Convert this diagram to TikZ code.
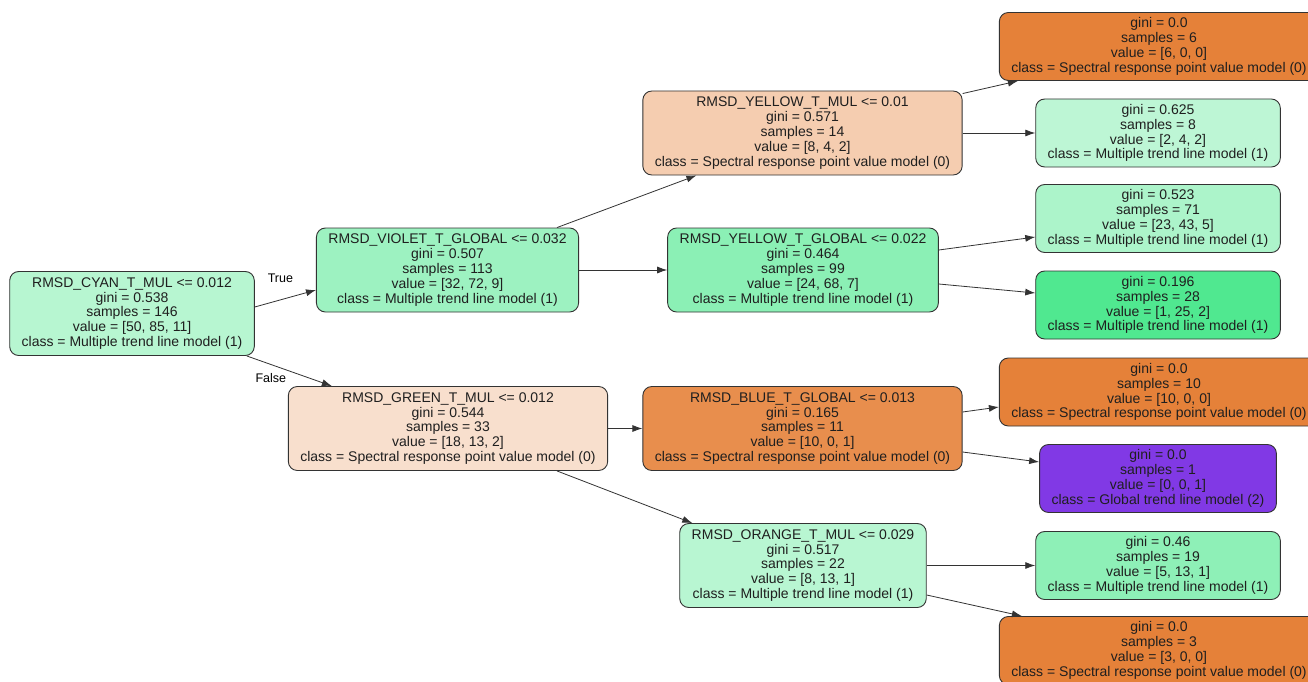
\documentclass[tikz,border=0pt]{standalone}
\usepackage{fontspec}
\setmainfont{Liberation Sans}
\usetikzlibrary{shapes,arrows.meta}

\definecolor{orangefull}{RGB}{229,129,57}
\definecolor{purplefull}{RGB}{129,57,229}
\definecolor{cyanfill}{RGB}{183,246,209}
\definecolor{violetfill}{RGB}{157,242,193}
\definecolor{greenfill}{RGB}{248,223,205}
\definecolor{ymulfill}{RGB}{245,205,176}
\definecolor{yglobfill}{RGB}{139,240,181}
\definecolor{bluefill}{RGB}{232,142,77}
\definecolor{orangefill}{RGB}{184,246,210}
\definecolor{mixeightfill}{RGB}{189,246,213}
\definecolor{mixseventyfill}{RGB}{172,244,202}
\definecolor{mixtwentyfill}{RGB}{80,232,144}
\definecolor{mixnineteenfill}{RGB}{142,240,183}

\begin{document}
\begin{tikzpicture}[x=1pt, y=1pt, >={Latex[length=10pt, width=7pt]}]
    \tikzset{font={\fontsize{14pt}{14.8pt}\selectfont}}
    \tikzset{tree/.style={draw=black!80, line width=0.9pt, rounded corners=9pt, align=center, inner xsep=12pt, inner ysep=2pt, text=black!88},
      split/.style={tree, minimum height=84pt},
      leaf/.style={tree, minimum height=68pt},
      edge/.style={->, draw=black!80, line width=0.8pt}}
    \clip (0,0) rectangle (1308,-682);
    \fill[white] (0,0) rectangle (1308,-682);
    % split nodes
    \node [split, fill=cyanfill] (cyan) at (132,-313.5) {RMSD\_CYAN\_T\_MUL <= 0.012\\gini = 0.538\\samples = 146\\value = [50, 85, 11]\\class = Multiple trend line model (1)};
    \node [split, fill=violetfill, right of=cyan, node distance=315.5pt, yshift=43.5pt] (violet) {RMSD\_VIOLET\_T\_GLOBAL <= 0.032\\gini = 0.507\\samples = 113\\value = [32, 72, 9]\\class = Multiple trend line model (1)};
      \node [split, fill=greenfill, right of=cyan, node distance=316pt, yshift=-115pt] (green) {RMSD\_GREEN\_T\_MUL <= 0.012\\gini = 0.544\\samples = 33\\value = [18, 13, 2]\\class = Spectral response point value model (0)};
    \node [split, fill=ymulfill, right of=violet, node distance=355pt, yshift=137pt] (ymul) {RMSD\_YELLOW\_T\_MUL <= 0.01\\gini = 0.571\\samples = 14\\value = [8, 4, 2]\\class = Spectral response point value model (0)};
    \node [split, fill=yglobfill, right of=violet, node distance=355.5pt] (yglob) {RMSD\_YELLOW\_T\_GLOBAL <= 0.022\\gini = 0.464\\samples = 99\\value = [24, 68, 7]\\class = Multiple trend line model (1)};
      \node [split, fill=bluefill, right of=green, node distance=354.5pt] (blue) {RMSD\_BLUE\_T\_GLOBAL <= 0.013\\gini = 0.165\\samples = 11\\value = [10, 0, 1]\\class = Spectral response point value model (0)};
      \node [split, fill=orangefill, right of=green, node distance=355pt, yshift=-137pt] (orange) {RMSD\_ORANGE\_T\_MUL <= 0.029\\gini = 0.517\\samples = 22\\value = [8, 13, 1]\\class = Multiple trend line model (1)};
    % leaves
    \node [leaf, fill=orangefull, right of=ymul, node distance=356.5pt, yshift=86.5pt] (pure6) {gini = 0.0\\samples = 6\\value = [6, 0, 0]\\class = Spectral response point value model (0)};
    \node [leaf, fill=mixeightfill, right of=ymul, node distance=355.5pt] (mix8) {gini = 0.625\\samples = 8\\value = [2, 4, 2]\\class = Multiple trend line model (1)};
    \node [leaf, fill=mixseventyfill, right of=yglob, node distance=355pt, yshift=51.5pt] (mix71) {gini = 0.523\\samples = 71\\value = [23, 43, 5]\\class = Multiple trend line model (1)};
    \node [leaf, fill=mixtwentyfill, right of=yglob, node distance=355pt, yshift=-35pt] (mix28) {gini = 0.196\\samples = 28\\value = [1, 25, 2]\\class = Multiple trend line model (1)};
      \node [leaf, fill=orangefull, right of=blue, node distance=356.5pt, yshift=36.5pt] (pure10) {gini = 0.0\\samples = 10\\value = [10, 0, 0]\\class = Spectral response point value model (0)};
      \node [leaf, fill=purplefull, right of=blue, node distance=355.5pt, yshift=-50pt] (glob1) {gini = 0.0\\samples = 1\\value = [0, 0, 1]\\class = Global trend line model (2)};
      \node [leaf, fill=mixnineteenfill, right of=orange, node distance=355pt] (mix19) {gini = 0.46\\samples = 19\\value = [5, 13, 1]\\class = Multiple trend line model (1)};
      \node [leaf, fill=orangefull, right of=orange, node distance=356pt, yshift=-85pt] (pure3) {gini = 0.0\\samples = 3\\value = [3, 0, 0]\\class = Spectral response point value model (0)};
    % edges
    \draw [edge] ([shift={(0,6.5)}]cyan.east) -- node[shift={(-5,20.5)}, font={\fontsize{12.5pt}{14pt}\selectfont}] {True} ([shift={(0,-20)}]violet.west);
    \draw [edge] ([shift={(-8,0)}]cyan.south east) -- node[shift={(-18.5,-7.5)}, font={\fontsize{12.5pt}{14pt}\selectfont}] {False} ([shift={(44,0)}]green.north west);
    \draw [edge] ([shift={(109.5,0)}]violet.north) -- ([shift={(54,0)}]ymul.south west);
    \draw [edge] (violet.east) -- (yglob.west);
      \draw [edge] (green.east) -- (blue.west);
      \draw [edge] ([shift={(109,0)}]green.south) -- ([shift={(13,0)}]orange.north west);
    \draw [edge] ([shift={(0,-3)}]ymul.north east) -- ([shift={(19,0)}]pure6.south west);
    \draw [edge] (ymul.east) -- (mix8.west);
    \draw [edge] ([shift={(0,20)}]yglob.east) -- ([shift={(0,-18.5)}]mix71.west);
    \draw [edge] ([shift={(0,-14)}]yglob.east) -- ([shift={(0,12)}]mix28.west);
      \draw [edge] ([shift={(0,16.5)}]blue.east) -- ([shift={(0,-15)}]pure10.west);
      \draw [edge] ([shift={(0,-23.5)}]blue.east) -- ([shift={(0,16.5)}]glob1.west);
      \draw [edge] (orange.east) -- (mix19.west);
      \draw [edge] ([shift={(0,-29.5)}]orange.east) -- ([shift={(23,0)}]pure3.north west);
\end{tikzpicture}
\end{document}
